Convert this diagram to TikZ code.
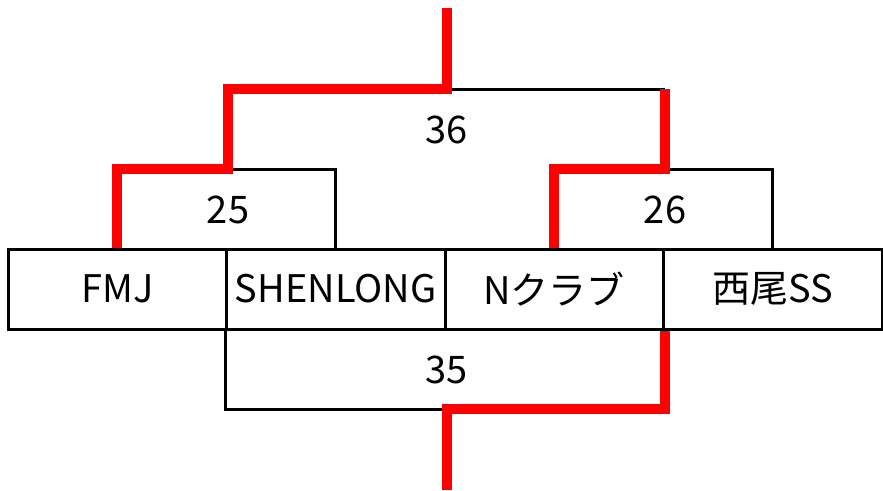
\documentclass[tikz,border=0pt]{standalone}
\usepackage{fontspec}
\setmainfont{Noto Sans CJK JP}
\usetikzlibrary{calc}

\begin{document}
\begin{tikzpicture}[x=1pt,y=-1pt,
    every node/.style={font=\fontsize{38}{40}\selectfont},
    team/.style={draw,line width=3pt,minimum width=218.5pt,minimum height=80pt,inner sep=0pt},
    lose/.style={line width=3pt},
    win/.style={red,line width=10pt},
    score/.style={inner sep=0pt}]
  \useasboundingbox (0,0) rectangle (883,490);
  \node[team] (fmj) at (117.25,289) {FMJ};
  \node[team] (shen) at (335.75,289) {SHENLONG};
  \node[team] (nclub) at (554.25,289) {Nクラブ};
  \node[team] (nishio) at (772.75,289) {西尾SS};
  \coordinate (w25) at (fmj.north east |- 0,169);
  \coordinate (w26) at (nclub.north east |- 0,169);
  \coordinate (w36) at (shen.north east |- 0,89);
  \coordinate (top) at (w36 |- 0,8);
  \coordinate (w35) at (w36 |- 0,409);
  \coordinate (bot) at (w36 |- 0,490);
  \node[score] (s25) at (w25 |- 0,210) {25};
  \node[score] (s26) at (w26 |- 0,210) {26};
  \node[score] (s36) at (w36 |- 0,130) {36};
  \node[score] (s35) at (w35 |- 0,370) {35};
  % losing sides
  \draw[lose] (w25) -| (shen.north);
  \draw[lose] (w36) -- (w36 -| w26);
  \draw[lose] (w26) -| (nishio.north);
  \draw[lose] (shen.south west) |- (w35);
  % winning sides
  \draw[win] (fmj.north) |- (w25) |- (w36) -- (top);
  \draw[win] (w36 -| w26) -- (w26) -| (nclub.north);
  \draw[win] (nclub.south east) |- (w35) -- (bot);
\end{tikzpicture}
\end{document}
